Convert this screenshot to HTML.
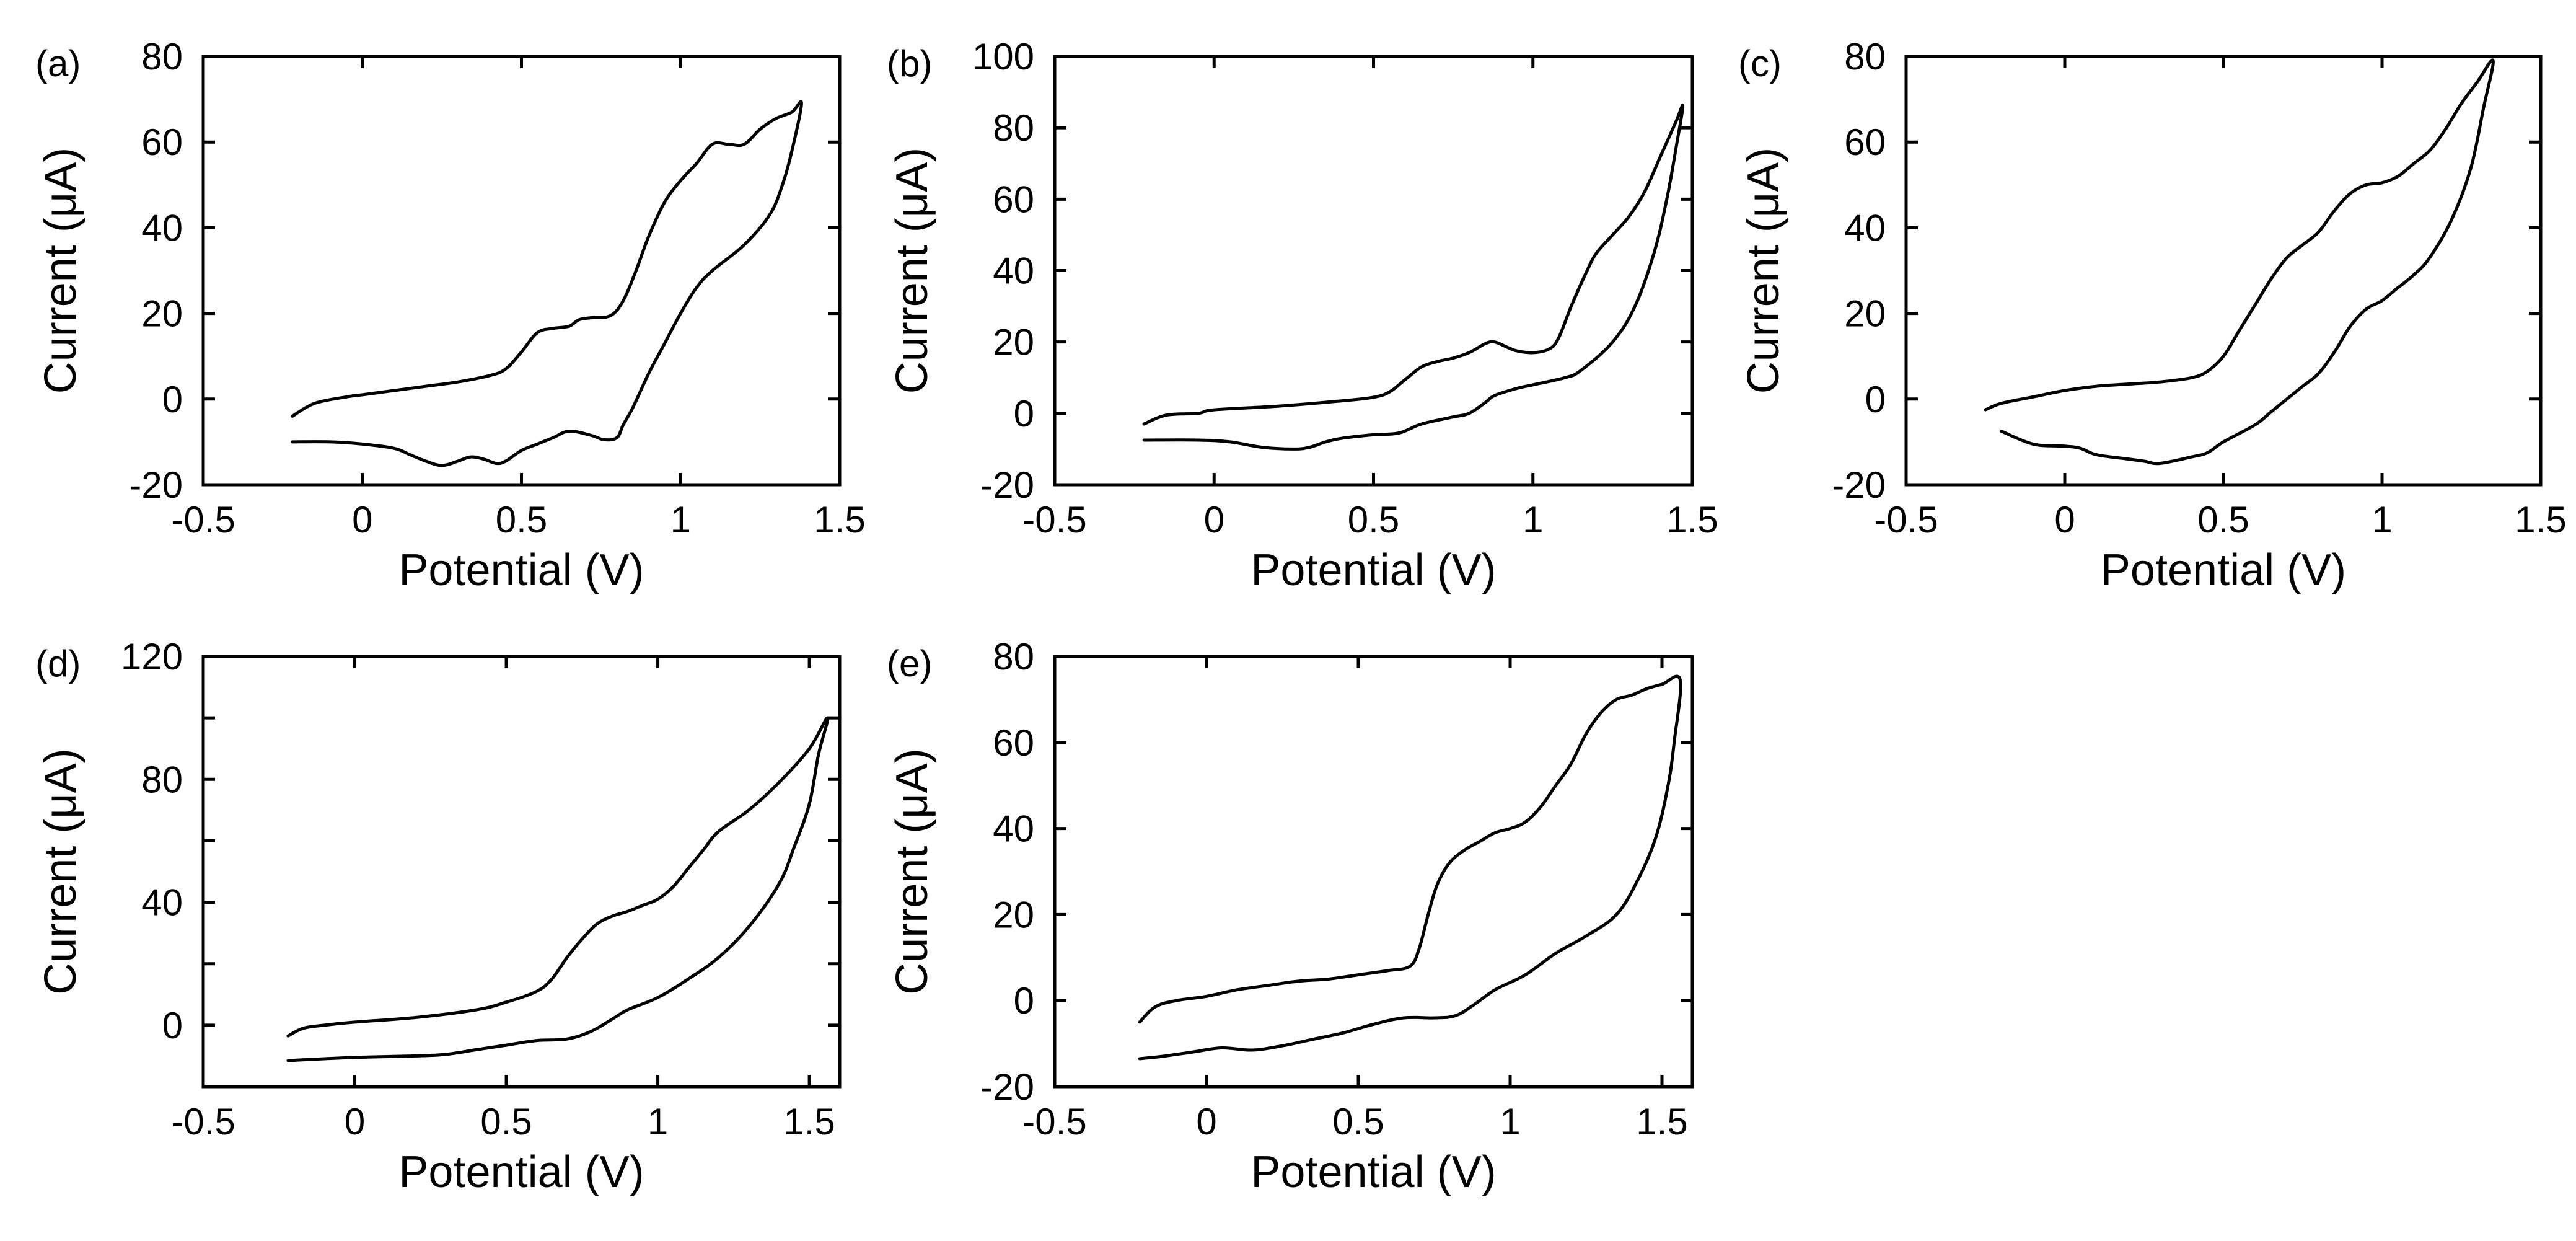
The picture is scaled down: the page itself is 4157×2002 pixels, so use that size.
<!DOCTYPE html>
<html><head><meta charset="utf-8">
<style>
html,body{margin:0;padding:0;background:#fff;}
svg{display:block;}
text{font-family:"Liberation Sans",Arial,sans-serif;fill:#000;}
</style></head>
<body>
<svg id="fig" xmlns="http://www.w3.org/2000/svg" width="4157" height="2002" viewBox="0 0 4157 2002"></svg>
<script>
// Panel (a)
const aX = [-0.22,-0.15,-0.05,0,0.1,0.2,0.3,0.4,0.45,0.5,0.55,0.6,0.65,0.68,0.72,0.78,0.82,0.86,0.9,0.95,1.0,1.05,1.1,1.15,1.2,1.25,1.3,1.35,1.38,
  1.35,1.32,1.28,1.2,1.1,1.05,1.0,0.95,0.9,0.85,0.82,0.8,0.76,0.72,0.65,0.6,0.55,0.5,0.45,0.42,0.38,0.34,0.3,0.25,0.2,0.15,0.1,0,-0.1,-0.22];
const aY = [-4,-1,0.5,1,2,3,4,5.5,7,11,15.5,16.5,17,18.5,19,19.5,23,30,38,46,51,55,59.5,59.5,59.5,63,65.5,67,69,
  58,50,43,36,30,26,20,13,6,-2,-6,-9,-9.5,-8.5,-7.5,-9,-10.5,-12,-14.5,-15,-14,-13.5,-14.5,-15.5,-14.5,-13,-11.5,-10.5,-10,-10];
// Panel (b)
const bX = [-0.22,-0.15,-0.05,0,0.2,0.4,0.5,0.55,0.6,0.65,0.7,0.75,0.8,0.85,0.88,0.92,0.95,1.0,1.05,1.08,1.12,1.17,1.2,1.25,1.3,1.35,1.4,1.45,1.47,
  1.45,1.42,1.38,1.32,1.25,1.15,1.1,1.0,0.95,0.88,0.85,0.8,0.75,0.65,0.58,0.5,0.4,0.35,0.3,0.25,0.15,0.05,-0.05,-0.22];
const bY = [-3,-0.5,0,1,2,3.5,4.5,6,9.5,13,14.5,15.5,17,19.5,20,18.5,17.5,17,18,21,30,40,45,50,55,62,72,82,86,
  75,60,45,30,20,12,10,8,7,5,3,0,-1,-3,-5.5,-6,-7,-8,-9.5,-10,-9.5,-8,-7.5,-7.5];
// Panel (c)
const cX = [-0.25,-0.2,-0.1,0,0.1,0.2,0.3,0.4,0.45,0.5,0.55,0.6,0.65,0.7,0.75,0.8,0.85,0.9,0.95,1.0,1.05,1.1,1.15,1.2,1.25,1.3,1.35,
  1.32,1.28,1.22,1.15,1.1,1.05,1.0,0.95,0.9,0.85,0.8,0.75,0.7,0.65,0.6,0.5,0.45,0.4,0.3,0.25,0.2,0.1,0.05,0,-0.1,-0.2];
const cY = [-2.5,-1,0.5,2,3,3.5,4,5,6.5,10,16,22,28,33,36,39,44,48,50,50.5,52,55,58,63,69,74,79,
  68,54,42,33,29,26,23,21,17,11,6,3,0,-3,-6,-10,-12.5,-13.5,-15,-14.5,-14,-13,-11.5,-11,-10.5,-7.5];
// Panel (d)
const dX = [-0.22,-0.17,-0.1,0,0.2,0.4,0.5,0.6,0.65,0.7,0.75,0.8,0.85,0.9,0.95,1.0,1.05,1.1,1.15,1.2,1.3,1.4,1.5,1.56,
  1.53,1.5,1.45,1.4,1.3,1.2,1.1,1.0,0.9,0.85,0.78,0.7,0.6,0.5,0.4,0.3,0.2,0,-0.22];
const dY = [-3.5,-1,0,1,2.5,5,7.5,11,15,22,28,33,35.5,37,39,41,45,51,57,63,70,79,90,100,
  88,72,58,46,32,22,15,9,5,2,-2,-4.5,-5,-6.5,-8,-9.5,-10,-10.5,-11.5];
// Panel (e)
const eX = [-0.22,-0.17,-0.1,0,0.1,0.2,0.3,0.4,0.5,0.6,0.67,0.7,0.73,0.76,0.8,0.85,0.9,0.95,1.0,1.05,1.1,1.15,1.2,1.25,1.3,1.35,1.4,1.45,1.5,1.56,
  1.54,1.52,1.48,1.42,1.35,1.25,1.15,1.05,0.95,0.88,0.82,0.75,0.65,0.55,0.45,0.35,0.25,0.15,0.05,-0.05,-0.15,-0.22];
const eY = [-5,-1.5,0,1,2.5,3.5,4.5,5,6,7,8,12,20,27,32,35,37,39,40,41.5,45,50,55,62,67,70,71,72.5,73.5,74.5,
  60,50,38,28,20,15,11,6,2.5,-1,-3.5,-4,-4,-5.5,-7.5,-9,-10.5,-11.5,-11,-12,-13,-13.5];
// Tick labels
const xTicks = [-0.5,0,0.5,1,1.5];
const xTickLabels = ["-0.5","0","0.5","1","1.5"];
const yTicksA = [-20,0,20,40,60,80];
const yTicksB = [-20,0,20,40,60,80,100];
const yTicksD = [0,40,80,120];
const yTicksDMinor = [0,20,40,60,80,100,120];
const yTicksE = [-20,0,20,40,60,80];

const NS = "http://www.w3.org/2000/svg";
const svg = document.getElementById('fig');
function mk(tag, attrs, parent){
  const e = document.createElementNS(NS, tag);
  for (const k in attrs) e.setAttribute(k, attrs[k]);
  (parent||svg).appendChild(e);
  return e;
}
function smoothPath(pts){
  let d = 'M' + pts[0][0].toFixed(1) + ' ' + pts[0][1].toFixed(1);
  for (let i = 0; i < pts.length - 1; i++){
    const p0 = pts[i-1] || pts[i], p1 = pts[i], p2 = pts[i+1], p3 = pts[i+2] || pts[i+1];
    const t = 0.35;
    const c1x = p1[0] + (p2[0]-p0[0])*t/2*1.0, c1y = p1[1] + (p2[1]-p0[1])*t/2;
    const c2x = p2[0] - (p3[0]-p1[0])*t/2, c2y = p2[1] - (p3[1]-p1[1])*t/2;
    d += 'C' + c1x.toFixed(1)+' '+c1y.toFixed(1)+' '+c2x.toFixed(1)+' '+c2y.toFixed(1)+' '+p2[0].toFixed(1)+' '+p2[1].toFixed(1);
  }
  return d;
}
function panel(id, box, xmin, xmax, ymin, ymax, xs, ys, yLab, yMinor, letter){
  const g = mk('g', {});
  
  
  const sx = v => box.l + (v - xmin) / (xmax - xmin) * (box.r - box.l);
  const sy = v => box.b - (v - ymin) / (ymax - ymin) * (box.b - box.t);
  const tl = 19;
  xTicks.forEach((v,i) => {
    if (v < xmin - 1e-9 || v > xmax + 1e-9) return;
    const x = sx(v);
    const t1 = mk('line', {x1:x, y1:box.b, x2:x, y2:box.b - tl, stroke:'#000','stroke-width':5}, g);
    
    
    const t2 = mk('line', {x1:x, y1:box.t, x2:x, y2:box.t + tl, stroke:'#000','stroke-width':5}, g);
    
    
    const lab = mk('text', {x:x, y:box.b + 77, 'font-size':60, 'text-anchor':'middle'}, g);
    lab.textContent = xTickLabels[i];
    
    
  });
  yMinor.forEach(v => {
    const y = sy(v);
    const t1 = mk('line', {x1:box.l, y1:y, x2:box.l + tl, y2:y, stroke:'#000','stroke-width':5}, g);
    
    
    const t2 = mk('line', {x1:box.r, y1:y, x2:box.r - tl, y2:y, stroke:'#000','stroke-width':5}, g);
    
    
  });
  yLab.forEach(v => {
    const lab = mk('text', {x:box.l - 33, y:sy(v) + 21, 'font-size':60, 'text-anchor':'end'}, g);
    lab.textContent = String(v);
    
    
  });
  const pts = xs.map((v,i) => [sx(v), sy(ys[i])]);
  const p = mk('path', {d:smoothPath(pts), fill:'none', stroke:'#000', 'stroke-width':5, 'stroke-linejoin':'round', 'stroke-linecap':'round'}, g);
  
  
  const f = mk('rect', {x:box.l, y:box.t, width:box.r - box.l, height:box.b - box.t, fill:'none', stroke:'#000', 'stroke-width':5}, g);
  
  
  const xt = mk('text', {x:(box.l + box.r)/2, y:box.b + 162, 'font-size':72, 'text-anchor':'middle'}, g);
  xt.textContent = 'Potential (V)';
  
  
  const cy = (box.t + box.b)/2, cx = box.l - 206;
  const yt = mk('text', {x:cx, y:cy, 'font-size':72, 'text-anchor':'middle', transform:'rotate(-90 ' + cx + ' ' + cy + ')'}, g);
  yt.textContent = 'Current (\u03BCA)';
  
  
  const pl = mk('text', {x:box.l - 271, y:box.t + 32, 'font-size':60}, g);
  pl.textContent = '(' + letter + ')';
  
  
}
const r1 = {t:91, b:782}, r2 = {t:1059, b:1753};
const c1 = {l:328, r:1355}, c2 = {l:1702, r:2731}, c3 = {l:3076, r:4100};
panel('a', {l:c1.l, r:c1.r, t:r1.t, b:r1.b}, -0.5, 1.5, -20, 80, aX, aY, yTicksA, yTicksA, 'a');
panel('b', {l:c2.l, r:c2.r, t:r1.t, b:r1.b}, -0.5, 1.5, -20, 100, bX, bY, yTicksB, yTicksB, 'b');
panel('c', {l:c3.l, r:c3.r, t:r1.t, b:r1.b}, -0.5, 1.5, -20, 80, cX, cY, yTicksA, yTicksA, 'c');
panel('d', {l:c1.l, r:c1.r, t:r2.t, b:r2.b}, -0.5, 1.6, -20, 120, dX, dY, yTicksD, yTicksDMinor, 'd');
panel('e', {l:c2.l, r:c2.r, t:r2.t, b:r2.b}, -0.5, 1.6, -20, 80, eX, eY, yTicksE, yTicksE, 'e');
</script>
</body></html>
